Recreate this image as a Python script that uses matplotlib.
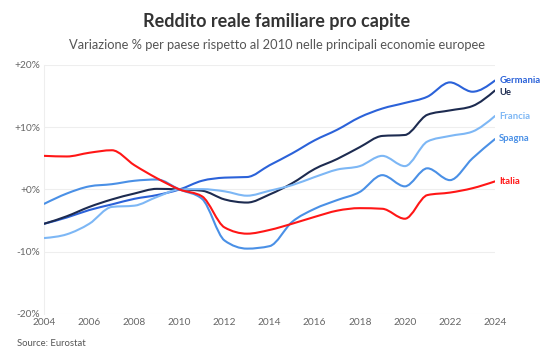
import numpy as np
import matplotlib
matplotlib.use("Agg")
import matplotlib.pyplot as plt
from matplotlib.path import Path
from matplotlib.patches import PathPatch

years = list(range(2004, 2025))
germania = [-5.5, -4.5, -3.3, -2.4, -1.5, -0.9, 0.0, 1.4, 1.9, 2.0, 3.9, 5.8, 7.9, 9.6, 11.6, 13.0, 13.9, 14.9, 17.2, 15.7, 17.5]
ue       = [-5.5, -4.3, -2.8, -1.6, -0.65, 0.1, 0.0, -0.2, -1.6, -2.1, -0.8, 1.0, 3.3, 4.9, 6.8, 8.6, 8.75, 12.0, 12.7, 13.4, 15.9]
francia  = [-7.8, -7.2, -5.5, -2.8, -2.6, -1.2, 0.0, 0.05, -0.3, -1.0, -0.2, 0.7, 2.0, 3.2, 3.75, 5.4, 3.75, 7.7, 8.6, 9.3, 11.8]
spagna   = [-2.3, -0.65, 0.5, 0.85, 1.4, 1.6, 0.0, -1.5, -8.2, -9.5, -9.1, -5.2, -3.1, -1.7, -0.4, 2.3, 0.5, 3.4, 1.5, 5.0, 8.1]
italia   = [5.4, 5.3, 5.9, 6.3, 3.9, 1.8, 0.0, -1.1, -6.1, -7.1, -6.5, -5.5, -4.4, -3.4, -3.0, -3.1, -4.7, -0.9, -0.5, 0.2, 1.3]

series_names = ["Germania", "Ue", "Francia", "Spagna", "Italia"]
series_vals = [germania, ue, francia, spagna, italia]
colors = ["#2b62d9", "#1d2b50", "#7db7f5", "#4a90e6", "#ff1616"]
y_ticks = [-20, -10, 0, 10, 20]
y_labels = ["-20%", "-10%", "+0%", "+10%", "+20%"]
x_ticks = list(range(2004, 2025, 2))

title = "Reddito reale familiare pro capite"
subtitle = "Variazione % per paese rispetto al 2010 nelle principali economie europee"
source = "Source: Eurostat"

plt.rcParams['font.family'] = ['Lato', 'DejaVu Sans']


def monotone_path(xs, ys):
    xs = np.asarray(xs, float)
    ys = np.asarray(ys, float)
    n = len(xs)
    h = np.diff(xs)
    s = np.diff(ys) / h
    t = np.zeros(n)
    for i in range(1, n - 1):
        h0, h1 = h[i - 1], h[i]
        s0, s1 = s[i - 1], s[i]
        p = (s0 * h1 + s1 * h0) / (h0 + h1)
        t[i] = (np.sign(s0) + np.sign(s1)) * min(abs(s0), abs(s1), 0.5 * abs(p))
    t[0] = (3 * s[0] - t[1]) / 2
    t[-1] = (3 * s[-1] - t[-2]) / 2
    verts = [(xs[0], ys[0])]
    codes = [Path.MOVETO]
    for i in range(n - 1):
        dx = (xs[i + 1] - xs[i]) / 3
        verts += [(xs[i] + dx, ys[i] + dx * t[i]),
                  (xs[i + 1] - dx, ys[i + 1] - dx * t[i + 1]),
                  (xs[i + 1], ys[i + 1])]
        codes += [Path.CURVE4] * 3
    return Path(verts, codes)


fig = plt.figure(figsize=(5.54, 3.53), dpi=100)
ax = fig.add_axes([0.0799, 0.1105, 0.8136, 0.7055])
ax.set_xlim(2004, 2024)
ax.set_ylim(-20, 20)

for yt in y_ticks:
    ax.axhline(yt, color="#eeeeee", lw=0.8, zorder=0)

for name, vals, c in zip(series_names, series_vals, colors):
    path = monotone_path(years, vals)
    patch = PathPatch(path, facecolor="none", edgecolor=c, lw=1.5, zorder=3,
                      capstyle="round", joinstyle="round")
    ax.add_patch(patch)

label_y = {"Germania": 17.5, "Ue": 15.6, "Francia": 11.8, "Spagna": 8.2, "Italia": 1.3}
for name, c in zip(series_names, colors):
    ax.annotate(name, xy=(2024, label_y[name]), xytext=(3, 0), textcoords="offset points",
                ha="left", va="center", fontsize=6.8, fontweight="bold", color=c,
                annotation_clip=False)

for sp in ["top", "right", "bottom"]:
    ax.spines[sp].set_visible(False)
ax.spines["left"].set_color("#eeeeee")
ax.spines["left"].set_linewidth(0.8)

ax.set_yticks(y_ticks)
ax.set_yticklabels(y_labels)
ax.set_xticks(x_ticks)
ax.set_xticklabels([str(x) for x in x_ticks])
ax.tick_params(axis="both", length=0, labelsize=7.3, labelcolor="#666666")
ax.tick_params(axis="y", pad=3)
ax.tick_params(axis="x", pad=3)

fig.text(0.5, 0.938, title, ha="center", va="center", fontsize=13, fontweight="bold", color="#333333")
fig.text(0.5, 0.873, subtitle, ha="center", va="center", fontsize=9.3, color="#555555")
fig.text(0.03, 0.028, source, ha="left", va="center", fontsize=6.8, color="#555555")

fig.savefig("out.png", dpi=100)
